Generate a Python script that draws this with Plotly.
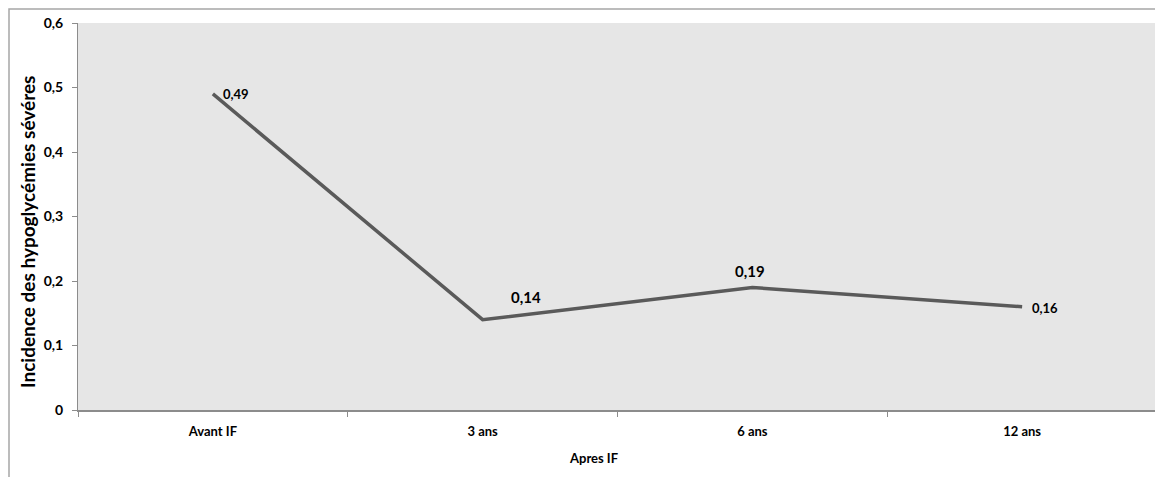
import plotly.graph_objects as go

categories = ["Avant IF", "3 ans", "6 ans", "12 ans"]
values = [0.49, 0.14, 0.19, 0.16]
value_labels = ["0,49", "0,14", "0,19", "0,16"]
y_tick_vals = [0, 0.1, 0.2, 0.3, 0.4, 0.5, 0.6]
y_tick_text = ["0", "0,1", "0,2", "0,3", "0,4", "0,5", "0,6"]
y_title = "Incidence des hypoglycémies sévéres"
x_title = "Apres IF"

# page has an 8px body margin; figure sized to fit the 1163x477 window
OFF = 8
W, H = 1163 - OFF, 477 - OFF
L, R, T, B = 78 - OFF, 6, 23 - OFF, 67
pw = W - L - R
ph = H - T - B


def px(xp):  # page pixel x -> paper
    return (xp - OFF - L) / pw


def py(yp):  # page pixel y -> paper
    return (H - B - (yp - OFF)) / ph


FONT = "Lato"

# label placement (style only)
label_xshift = [8, 26, -2, 8]
label_yshift = [0, 23, 16, -1]
label_anchor = ["left", "left", "center", "left"]
label_size = [13, 15, 15, 13]

fig = go.Figure()
fig.add_trace(go.Scatter(
    x=categories, y=values, mode="lines",
    line=dict(color="#5a5a5a", width=3.5),
    showlegend=False, hoverinfo="skip",
))

annotations = []
for c, v, t, xs, ys, a, s in zip(categories, values, value_labels,
                                 label_xshift, label_yshift, label_anchor, label_size):
    annotations.append(dict(
        x=c, y=v, xref="x", yref="y", text=t, showarrow=False,
        xanchor=a, yanchor="middle", xshift=xs, yshift=ys,
        font=dict(family=FONT, size=s, color="#000000", weight="bold"),
    ))
annotations.append(dict(
    text=x_title, xref="paper", yref="paper",
    x=px(593), y=py(458),
    showarrow=False, font=dict(family=FONT, size=13, weight="bold"),
    xanchor="center", yanchor="middle",
))
annotations.append(dict(
    text=y_title, xref="paper", yref="paper",
    x=px(27), y=py(232), textangle=-90,
    showarrow=False, font=dict(family=FONT, size=19, weight="bold"),
    xanchor="center", yanchor="middle",
))

fig.update_layout(
    width=W, height=H,
    margin=dict(l=L, r=R, t=T, b=B, autoexpand=False),
    paper_bgcolor="white", plot_bgcolor="#e6e6e6",
    font=dict(family=FONT, color="#000000"),
    xaxis=dict(
        type="category", range=[-0.5, 3.5], automargin=False,
        showgrid=False, zeroline=False,
        showline=True, linecolor="#8c8c8c", linewidth=1.5,
        ticks="outside", tickson="boundaries", ticklen=5, tickcolor="#8c8c8c",
        ticklabelstandoff=9,
        tickfont=dict(family=FONT, size=13, weight="bold"),
    ),
    yaxis=dict(
        range=[0, 0.6], tickvals=y_tick_vals, ticktext=y_tick_text, automargin=False,
        showgrid=False, zeroline=False,
        showline=True, linecolor="#8c8c8c", linewidth=1,
        ticks="outside", ticklen=5, tickcolor="#8c8c8c",
        ticklabelstandoff=6,
        tickfont=dict(family=FONT, size=14, weight="bold"),
    ),
    annotations=annotations,
    shapes=[dict(
        type="rect", xref="paper", yref="paper",
        x0=(1 - L) / pw, x1=(W + 5 - L) / pw,
        y0=(H - B - (H + 5)) / ph, y1=(H - B - 1) / ph,
        line=dict(color="#a6a6a6", width=1.5), layer="below",
    )],
)

fig.write_html("out.html")
